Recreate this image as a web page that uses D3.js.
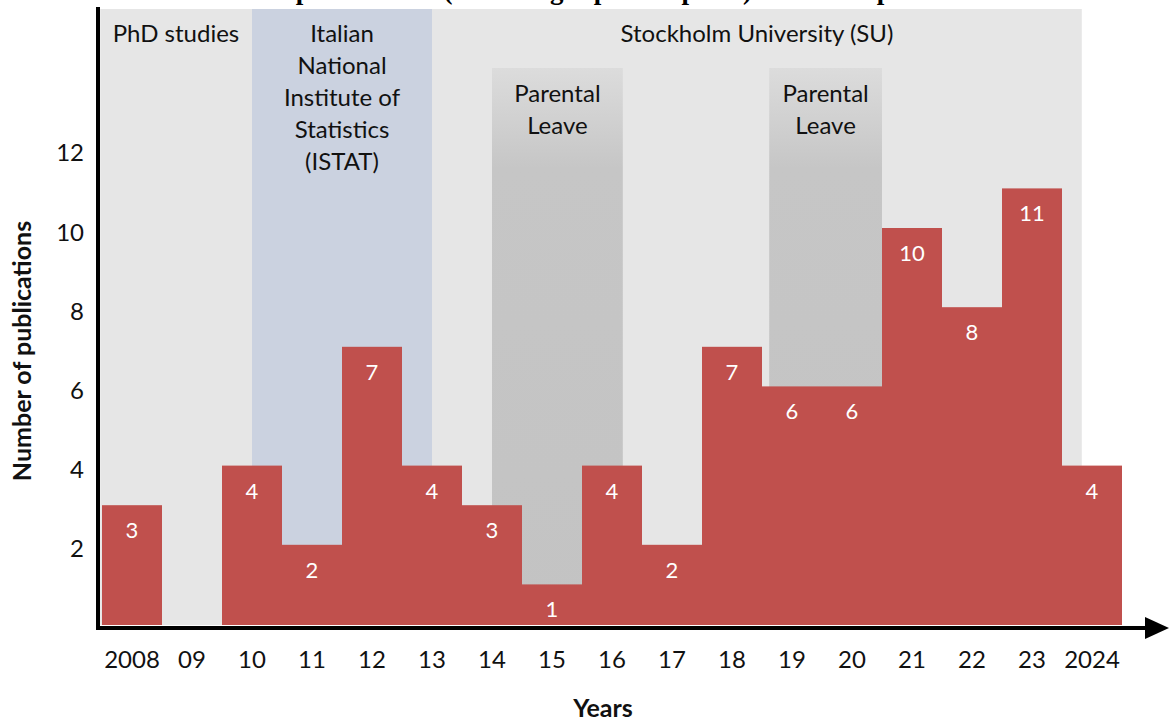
<!DOCTYPE html>
<html>
<head>
<meta charset="utf-8">
<script src="https://cdn.jsdelivr.net/npm/d3@7"></script>
<style>
  html, body { margin: 0; padding: 0; background: #ffffff; }
  svg { display: block; }
</style>
</head>
<body>
<svg id="chart" width="1169" height="722"></svg>
<script>
// ---- data ----
const years = ["2008","09","10","11","12","13","14","15","16","17","18","19","20","21","22","23","2024"];
const publications = [3,0,4,2,7,4,3,1,4,2,7,6,6,10,8,11,4];
const yTicks = [2,4,6,8,10,12];
// career periods (in year units, start/end on a continuous year scale)
const periodNames = ["PhD studies","Italian National Institute of Statistics (ISTAT)","Stockholm University (SU)"];
const periodStart = [2007.97, 2010.5, 2013.5];
const periodEnd   = [2010.5, 2013.5, 2024.33];
const leaveStart = [2014.5, 2019.12];
const leaveEnd   = [2016.68, 2021.0];
const titleText = "Number of publications (excluding reports/ op-eds) and other publications";

// ---- layout ----
const svg = d3.select("#chart");
const font = "Lato, 'Open Sans', sans-serif";
const x0 = 102, x1 = 1122, yZero = 624, yTop = 9;

const x = d3.scaleBand().domain(years).range([x0, x1]).padding(0);
const xc = d3.scaleLinear().domain([2008, 2025]).range([x0, x1]);
const y = d3.scaleLinear().domain([0, 12]).range([yZero, yZero - 12 * 39.6]);

const defs = svg.append("defs");
const grad = defs.append("linearGradient").attr("id", "leaveGrad")
  .attr("x1", 0).attr("y1", 0).attr("x2", 0).attr("y2", 1);
grad.append("stop").attr("offset", "0%").attr("stop-color", "#dcdcdc");
grad.append("stop").attr("offset", "18%").attr("stop-color", "#c6c6c6");
grad.append("stop").attr("offset", "100%").attr("stop-color", "#c3c3c3");

// title (cut off at the top like the reference)
svg.append("text")
  .attr("x", 591).attr("y", -1)
  .attr("text-anchor", "middle")
  .attr("font-family", "'Liberation Serif', 'Times New Roman', serif")
  .attr("font-weight", "bold").attr("font-size", 27)
  .text(titleText);

// period backgrounds
const periodFill = ["#e6e6e6", "#cbd2e0", "#e6e6e6"];
svg.append("g").selectAll("rect").data(periodNames).join("rect")
  .attr("x", (d, i) => xc(periodStart[i]))
  .attr("y", yTop)
  .attr("width", (d, i) => xc(periodEnd[i]) - xc(periodStart[i]))
  .attr("height", yZero - yTop + 1)
  .attr("fill", (d, i) => periodFill[i]);

// parental leave backgrounds
svg.append("g").selectAll("rect").data(leaveStart).join("rect")
  .attr("x", (d) => xc(d))
  .attr("y", 68)
  .attr("width", (d, i) => xc(leaveEnd[i]) - xc(d))
  .attr("height", yZero - 68 + 1)
  .attr("fill", "url(#leaveGrad)");

// period labels
const labelSize = 24;
const periodLines = [["PhD studies"], ["Italian", "National", "Institute of", "Statistics", "(ISTAT)"], ["Stockholm University (SU)"]];
const periodLabelX = [176, 342, 757];
periodLines.forEach((lines, i) => {
  const t = svg.append("text")
    .attr("text-anchor", "middle")
    .attr("font-family", font).attr("font-size", labelSize).attr("fill", "#111");
  lines.forEach((ln, j) => {
    t.append("tspan").attr("x", periodLabelX[i]).attr("y", 42 + j * 32).text(ln);
  });
});
leaveStart.forEach((s, i) => {
  const cx = (xc(s) + xc(leaveEnd[i])) / 2;
  const t = svg.append("text")
    .attr("text-anchor", "middle")
    .attr("font-family", font).attr("font-size", labelSize).attr("fill", "#111");
  ["Parental", "Leave"].forEach((ln, j) => {
    t.append("tspan").attr("x", cx).attr("y", 102 + j * 32).text(ln);
  });
});

// bars
svg.append("g").selectAll("rect").data(years.filter((d, i) => publications[i] > 0)).join("rect")
  .attr("x", d => x(d))
  .attr("y", d => y(publications[years.indexOf(d)]))
  .attr("width", x.bandwidth())
  .attr("height", d => yZero - y(publications[years.indexOf(d)]) + 1)
  .attr("fill", "#c0504d");

// value labels
svg.append("g").selectAll("text").data(years.filter((d, i) => publications[i] > 0)).join("text")
  .attr("x", d => x(d) + x.bandwidth() / 2)
  .attr("y", d => y(publications[years.indexOf(d)]) + 33)
  .attr("text-anchor", "middle")
  .attr("font-family", font).attr("font-size", 22).attr("fill", "#ffffff")
  .text(d => publications[years.indexOf(d)]);

// y tick labels
svg.append("g").selectAll("text").data(yTicks).join("text")
  .attr("x", 84)
  .attr("y", d => y(d) + 12.5)
  .attr("text-anchor", "end")
  .attr("font-family", font).attr("font-size", 24).attr("fill", "#111")
  .text(d => d);

// x tick labels
svg.append("g").selectAll("text").data(years).join("text")
  .attr("x", d => x(d) + x.bandwidth() / 2)
  .attr("y", 668)
  .attr("text-anchor", "middle")
  .attr("font-family", font).attr("font-size", 24).attr("fill", "#111")
  .text(d => d);

// axes lines
svg.append("line").attr("x1", 98).attr("x2", 98).attr("y1", 7).attr("y2", 630)
  .attr("stroke", "#000").attr("stroke-width", 4);
svg.append("line").attr("x1", 96).attr("x2", 1150).attr("y1", 628).attr("y2", 628)
  .attr("stroke", "#000").attr("stroke-width", 4);
svg.append("path").attr("d", d3.line()([[1145, 617], [1169, 628], [1145, 639]]) + "Z")
  .attr("fill", "#000");

// axis titles
svg.append("text").attr("x", 603).attr("y", 717)
  .attr("text-anchor", "middle")
  .attr("font-family", font).attr("font-weight", "bold").attr("font-size", 25).attr("fill", "#111")
  .text("Years");
svg.append("text")
  .attr("transform", "translate(31,351) rotate(-90)")
  .attr("text-anchor", "middle")
  .attr("font-family", font).attr("font-weight", "bold").attr("font-size", 25).attr("fill", "#111")
  .text("Number of publications");
</script>
</body>
</html>
